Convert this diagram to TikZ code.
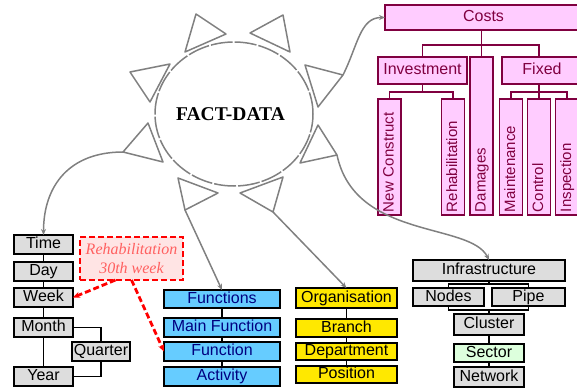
\documentclass[tikz,border=0pt]{standalone}
\usepackage{fontspec}
\setmainfont{Liberation Sans}
\newfontfamily\serifface{Liberation Serif}
\usetikzlibrary{arrows.meta,shapes.geometric,calc}

\definecolor{linegray}{HTML}{808080}
\definecolor{boxgray}{HTML}{DDDDDD}
\definecolor{funcblue}{HTML}{66CCFF}
\definecolor{funcnavy}{HTML}{000080}
\definecolor{orgyellow}{HTML}{FFE800}
\definecolor{costpink}{HTML}{FFCCFF}
\definecolor{costmaroon}{HTML}{800040}
\definecolor{sectorgreen}{HTML}{DDFFDD}
\definecolor{notefill}{HTML}{FFE4E4}
\definecolor{notered}{HTML}{FF0000}
\definecolor{notetext}{HTML}{FF6060}

\begin{document}
\begin{tikzpicture}[x=1pt,y=-1pt,
  every node/.style={inner sep=0pt, outer sep=0pt},
  hbox/.style={draw, line width=1.4pt, font=\fontsize{16}{18}\selectfont,
    text height=11pt, text depth=3pt, align=center},
  timebox/.style={hbox, fill=boxgray, text=black, minimum width=59, minimum height=19},
  funcbox/.style={hbox, fill=funcblue, text=funcnavy, minimum width=116},
  orgbox/.style={hbox, fill=orgyellow, text=black, minimum width=101},
  infbox/.style={hbox, fill=boxgray, text=black},
  costbox/.style={hbox, draw=costmaroon, fill=costpink, text=costmaroon},
  costvert/.style={costbox, rotate=90, font=\fontsize{15}{17}\selectfont,
    inner xsep=3pt, minimum height=23, align=left},
  link/.style={draw, line width=1.3pt},
  costlink/.style={draw=costmaroon, line width=1.3pt},
  ray/.style={draw=linegray, line width=1.5pt, line join=round},
  feed/.style={draw=linegray, line width=1.5pt, -{Stealth[length=6pt,width=5pt]}},
  notelink/.style={draw=notered, line width=2.8pt, dash pattern=on 6pt off 3pt,
    -{Stealth[length=7pt,width=6pt]}},
]
\useasboundingbox (0,0) rectangle (577,391);
\clip (0,0) rectangle (577,391);

% ---------- central fact entity ----------
\node[ellipse, draw=linegray, line width=1.5pt, dash pattern=on 22pt off 2pt,
  minimum width=158, minimum height=144] (fact) at (234,114) {};
\node[font=\serifface\bfseries\fontsize{19.5}{22}\selectfont] (factlabel) at (230.5,114) {FACT-DATA};

% rays around the fact entity
\coordinate (r1a) at (196,14);  \coordinate (r1b) at (226,34);  \coordinate (r1c) at (185,52);
\coordinate (r2a) at (283,15);  \coordinate (r2b) at (290,52);  \coordinate (r2c) at (250,33);
\coordinate (r3a) at (130,72);  \coordinate (r3b) at (170,64);  \coordinate (r3c) at (150,102);
\coordinate (r4a) at (305,65);  \coordinate (r4b) at (343,75);  \coordinate (r4c) at (318,107);
\coordinate (r5a) at (148,123); \coordinate (r5b) at (163,162); \coordinate (r5c) at (123,152);
\coordinate (r6a) at (318,125); \coordinate (r6b) at (337,155); \coordinate (r6c) at (300,163);
\coordinate (r7a) at (178,178); \coordinate (r7b) at (218,193); \coordinate (r7c) at (185,210);
\coordinate (r8a) at (240,193); \coordinate (r8b) at (283,177); \coordinate (r8c) at (273,212);
\foreach \r in {1,...,8}{
  \draw[ray] (r\r a) -- (r\r b) -- (r\r c) -- cycle;
}

% ---------- costs hierarchy (runs past the right edge) ----------
\node[costbox, minimum width=197, minimum height=25] (costs) at (483.5,17.5) {Costs};
\node[costbox, minimum width=89, minimum height=27] (invest) at (422.5,70.5) {Investment};
\node[costbox, minimum width=80, minimum height=27] (fixed) at (542,70.5) {Fixed};
\node[costvert, minimum width=158, text width=152] (damages) at (481.5,136) {Damages};
\node[costvert, minimum width=116, text width=110] (newc) at (389.5,157) {New Construct};
\node[costvert, minimum width=116, text width=110] (rehabc) at (453,157) {Rehabilitation};
\node[costvert, minimum width=116, text width=110] (maint) at (511,157) {Maintenance};
\node[costvert, minimum width=116, text width=110] (control) at (539,157) {Control};
\node[costvert, minimum width=116, text width=110] (inspect) at (567,157) {Inspection};

\coordinate (busC) at ($(invest.north)+(0,-12)$);
\coordinate (busI) at ($(invest.south)+(0,8)$);
\coordinate (busF) at ($(control.east)+(0,-7)$);
\draw[costlink] (damages.east |- costs.south) -- (damages.east);
\draw[costlink] (invest.north) |- (busC) -| (control.east |- fixed.north);
\draw[costlink] (invest.south) -- (busI);
\draw[costlink] (newc.east) |- (busI) -| (rehabc.east);
\draw[costlink] (control.east |- fixed.south) -- (control.east);
\draw[costlink] (maint.east) |- (busF) -| (inspect.east);

% ---------- time hierarchy ----------
\node[timebox] (time) at (43.5,244.5) {Time};
\node[timebox] (day) at (43.5,271.5) {Day};
\node[timebox] (week) at (43.5,297.5) {Week};
\node[timebox] (month) at (43.5,327.5) {Month};
\node[timebox, minimum width=58] (quarter) at (101,351.5) {Quarter};
\node[timebox] (year) at (43.5,376.5) {Year};
\draw[link] (time.south) -- (day.north);
\draw[link] (day.south) -- (week.north);
\draw[link] (week.south) -- (month.north);
\draw[link] (month.south) -- (year.north);
\draw[link] (month.east) -| (quarter.north);
\draw[link] (quarter.south) |- (year.east);

% ---------- function hierarchy ----------
\node[funcbox, minimum height=18] (functions) at (222,299) {Functions};
\node[funcbox, minimum height=19] (mainfunc) at (222,327.5) {Main Function};
\node[funcbox, minimum height=19] (function) at (222,351.5) {Function};
\node[funcbox, minimum height=19] (activity) at (222,376.5) {Activity};
\draw[link] (functions.south) -- (mainfunc.north);
\draw[link] (mainfunc.south) -- (function.north);
\draw[link] (function.south) -- (activity.north);

% ---------- organisation hierarchy ----------
\node[orgbox, minimum height=20] (organisation) at (346.5,298) {Organisation};
\node[orgbox, minimum height=18] (branch) at (346.5,328) {Branch};
\node[orgbox, minimum height=17] (department) at (346.5,351.5) {Department};
\node[orgbox, minimum height=17] (position) at (346.5,374.5) {Position};
\draw[link] (organisation.south) -- (branch.north);
\draw[link] (branch.south) -- (department.north);
\draw[link] (department.south) -- (position.north);

% ---------- infrastructure hierarchy ----------
\node[infbox, minimum width=152, minimum height=21] (infra) at (489,270.5) {Infrastructure};
\node[infbox, minimum width=71, minimum height=18] (nodes) at (448.5,297) {Nodes};
\node[infbox, minimum width=73, minimum height=18] (pipe) at (528.5,297) {Pipe};
\node[infbox, minimum width=70, minimum height=21] (cluster) at (489,324.5) {Cluster};
\node[infbox, fill=sectorgreen, minimum width=70, minimum height=18] (sector) at (489,353) {Sector};
\node[infbox, minimum width=70, minimum height=20] (network) at (489,377) {Network};
\coordinate (busA) at ($(infra.south)+(0,3)$);
\coordinate (busB) at ($(cluster.north)+(0,-4)$);
\draw[link] (infra.south) -- (busA);
\draw[link] (nodes.north) |- (busA) -| (pipe.north);
\draw[link] (nodes.south) |- (busB) -| (pipe.south);
\draw[link] (busB) -- (cluster.north);
\draw[link] (cluster.south) -- (sector.north);
\draw[link] (sector.south) -- (network.north);

% ---------- feeds from the fact entity ----------
\draw[feed] (r4b) .. controls (358,45) and (360,17.5) .. (costs.west);
\draw[feed] (r6b) .. controls (355,240) and (470,222) .. (infra.north);
\draw[feed] (r5c) .. controls (70,152) and (43.5,185) .. (time.north);
\draw[feed] (r7c) -- (functions.north);
\draw[feed] (r8c) -- (organisation.north);

% ---------- annotation ----------
\node[draw=notered, line width=2.8pt, dash pattern=on 6pt off 3pt, fill=notefill,
  minimum width=103, minimum height=43, text=notetext, align=center,
  font=\serifface\itshape\fontsize{16}{19}\selectfont] (note) at (131.5,258.5)
  {Rehabilitation\\30th week};
\draw[notelink] ([xshift=-16pt]note.south) -- (week.east);
\draw[notelink] (note.south) -- (function.west);

\end{tikzpicture}
\end{document}
